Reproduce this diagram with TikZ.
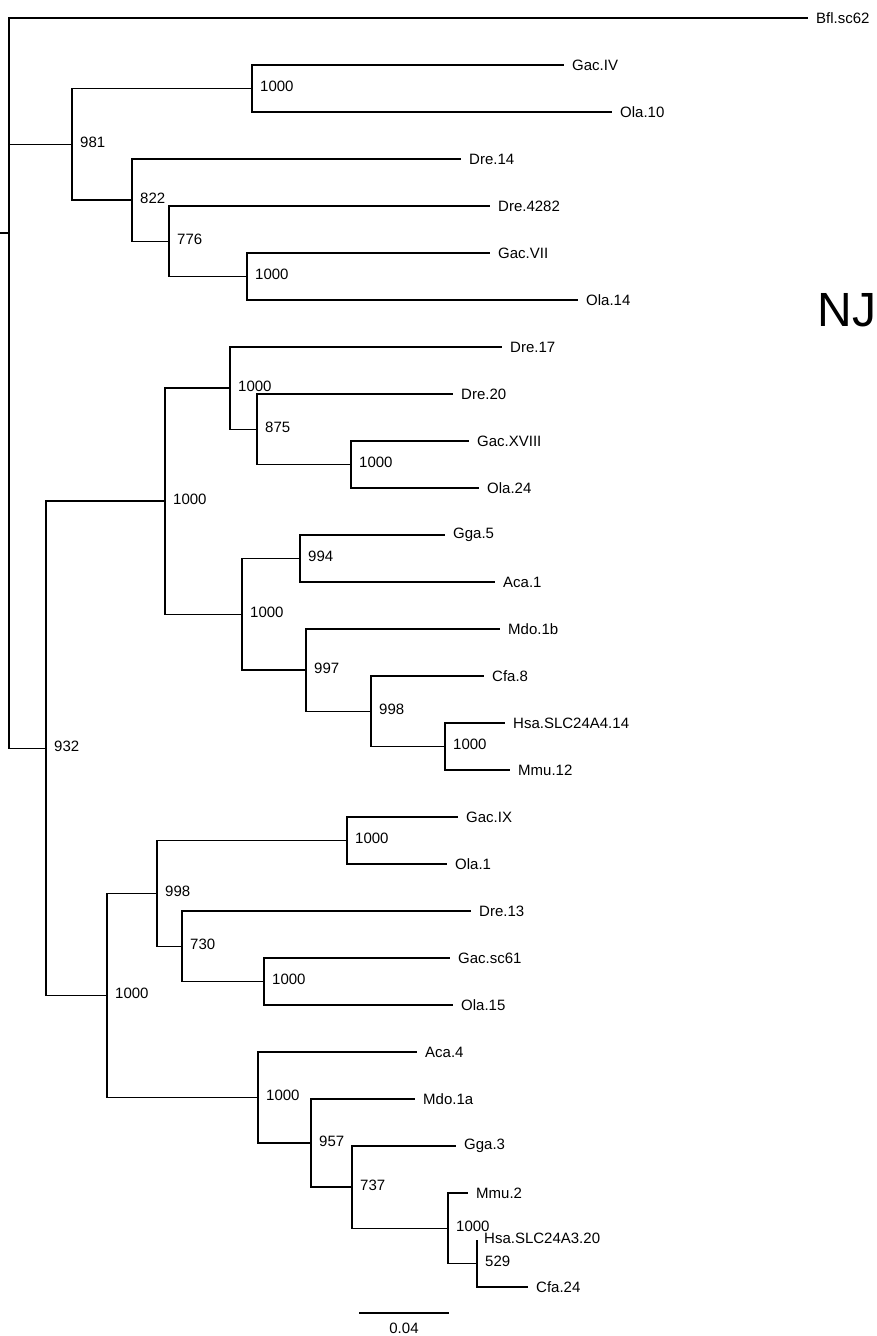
\documentclass[tikz,border=0pt]{standalone}
\usepackage{fontspec}
\setmainfont{Liberation Sans}
\begin{document}
\begin{tikzpicture}[x=1pt,y=-1pt,
  br/.style={line width=1.4pt},
  leaf/.style={anchor=west,inner sep=0pt,font=\fontsize{15}{18}\selectfont},
  boot/.style={anchor=west,inner sep=0pt,font=\fontsize{15}{18}\selectfont}]
\useasboundingbox (0,0) rectangle (876,1336);
% ---------- internal nodes ----------
\coordinate (stub) at (0,233);
\coordinate (root) at (9,233);
\coordinate (n981) at (72,144.3);
\coordinate (n1000a) at (252,88.5);
\coordinate (n822) at (132,200.1);
\coordinate (n776) at (169,241.25);
\coordinate (n1000b) at (247,276.5);
\coordinate (n932) at (46,748.2);
\coordinate (nA) at (165,501);
\coordinate (nB) at (230,388);
\coordinate (n875) at (257,429.25);
\coordinate (nC) at (351,464.5);
\coordinate (nD) at (242,614.25);
\coordinate (n994) at (300,558.5);
\coordinate (n997) at (306,670);
\coordinate (n998a) at (371,711.25);
\coordinate (nE) at (445,746.5);
\coordinate (nF) at (107,995.4);
\coordinate (n998b) at (157,893.4);
\coordinate (nG) at (347,840.5);
\coordinate (n730) at (182,946.25);
\coordinate (nH) at (264,981.5);
\coordinate (nI) at (258,1097.5);
\coordinate (n957) at (311,1143);
\coordinate (n737) at (352,1187);
\coordinate (nJ) at (448,1228.25);
\coordinate (n529) at (477,1263.5);
% ---------- tips ----------
\coordinate (tBfl) at (808,18);
\coordinate (tGacIV) at (564,65);
\coordinate (tOla10) at (612,112);
\coordinate (tDre14) at (461,159);
\coordinate (tDre4282) at (490,206);
\coordinate (tGacVII) at (490,253);
\coordinate (tOla14) at (578,300);
\coordinate (tDre17) at (502,347);
\coordinate (tDre20) at (453,394);
\coordinate (tGacXVIII) at (469,441);
\coordinate (tOla24) at (479,488);
\coordinate (tGga5) at (445,535);
\coordinate (tAca1) at (495,582);
\coordinate (tMdo1b) at (500,629);
\coordinate (tCfa8) at (484,676);
\coordinate (tHsa14) at (505,723);
\coordinate (tMmu12) at (510,770);
\coordinate (tGacIX) at (458,817);
\coordinate (tOla1) at (447,864);
\coordinate (tDre13) at (471,911);
\coordinate (tGacsc61) at (450,958);
\coordinate (tOla15) at (453,1005);
\coordinate (tAca4) at (417,1052);
\coordinate (tMdo1a) at (415,1099);
\coordinate (tGga3) at (456,1146);
\coordinate (tMmu2) at (468,1193);
\coordinate (tHsa20) at (477,1240);
\coordinate (tCfa24) at (528,1287);
% ---------- branches ----------
\draw[br] (stub) -- (root);
\draw[br] (root) |- (tBfl);
\draw[br] (root) |- (n981);
\draw[br] (root) |- (n932);
\draw[br] (n981) |- (n1000a);
\draw[br] (n981) |- (n822);
\draw[br] (n1000a) |- (tGacIV);
\draw[br] (n1000a) |- (tOla10);
\draw[br] (n822) |- (tDre14);
\draw[br] (n822) |- (n776);
\draw[br] (n776) |- (tDre4282);
\draw[br] (n776) |- (n1000b);
\draw[br] (n1000b) |- (tGacVII);
\draw[br] (n1000b) |- (tOla14);
\draw[br] (n932) |- (nA);
\draw[br] (n932) |- (nF);
\draw[br] (nA) |- (nB);
\draw[br] (nA) |- (nD);
\draw[br] (nB) |- (tDre17);
\draw[br] (nB) |- (n875);
\draw[br] (n875) |- (tDre20);
\draw[br] (n875) |- (nC);
\draw[br] (nC) |- (tGacXVIII);
\draw[br] (nC) |- (tOla24);
\draw[br] (nD) |- (n994);
\draw[br] (nD) |- (n997);
\draw[br] (n994) |- (tGga5);
\draw[br] (n994) |- (tAca1);
\draw[br] (n997) |- (tMdo1b);
\draw[br] (n997) |- (n998a);
\draw[br] (n998a) |- (tCfa8);
\draw[br] (n998a) |- (nE);
\draw[br] (nE) |- (tHsa14);
\draw[br] (nE) |- (tMmu12);
\draw[br] (nF) |- (n998b);
\draw[br] (nF) |- (nI);
\draw[br] (n998b) |- (nG);
\draw[br] (n998b) |- (n730);
\draw[br] (nG) |- (tGacIX);
\draw[br] (nG) |- (tOla1);
\draw[br] (n730) |- (tDre13);
\draw[br] (n730) |- (nH);
\draw[br] (nH) |- (tGacsc61);
\draw[br] (nH) |- (tOla15);
\draw[br] (nI) |- (tAca4);
\draw[br] (nI) |- (n957);
\draw[br] (n957) |- (tMdo1a);
\draw[br] (n957) |- (n737);
\draw[br] (n737) |- (tGga3);
\draw[br] (n737) |- (nJ);
\draw[br] (nJ) |- (tMmu2);
\draw[br] (nJ) |- (n529);
\draw[br] (n529) |- (tHsa20);
\draw[br] (n529) |- (tCfa24);
% ---------- leaf labels ----------
\node[leaf] (lBfl) at ([xshift=8pt]tBfl) {Bfl.sc62};
\node[leaf] (lGacIV) at ([xshift=8pt]tGacIV) {Gac.IV};
\node[leaf] (lOla10) at ([xshift=8pt]tOla10) {Ola.10};
\node[leaf] (lDre14) at ([xshift=8pt]tDre14) {Dre.14};
\node[leaf] (lDre4282) at ([xshift=8pt]tDre4282) {Dre.4282};
\node[leaf] (lGacVII) at ([xshift=8pt]tGacVII) {Gac.VII};
\node[leaf] (lOla14) at ([xshift=8pt]tOla14) {Ola.14};
\node[leaf] (lDre17) at ([xshift=8pt]tDre17) {Dre.17};
\node[leaf] (lDre20) at ([xshift=8pt]tDre20) {Dre.20};
\node[leaf] (lGacXVIII) at ([xshift=8pt]tGacXVIII) {Gac.XVIII};
\node[leaf] (lOla24) at ([xshift=8pt]tOla24) {Ola.24};
\node[leaf] (lGga5) at ([xshift=8pt]tGga5) {Gga.5};
\node[leaf] (lAca1) at ([xshift=8pt]tAca1) {Aca.1};
\node[leaf] (lMdo1b) at ([xshift=8pt]tMdo1b) {Mdo.1b};
\node[leaf] (lCfa8) at ([xshift=8pt]tCfa8) {Cfa.8};
\node[leaf] (lHsa14) at ([xshift=8pt]tHsa14) {Hsa.SLC24A4.14};
\node[leaf] (lMmu12) at ([xshift=8pt]tMmu12) {Mmu.12};
\node[leaf] (lGacIX) at ([xshift=8pt]tGacIX) {Gac.IX};
\node[leaf] (lOla1) at ([xshift=8pt]tOla1) {Ola.1};
\node[leaf] (lDre13) at ([xshift=8pt]tDre13) {Dre.13};
\node[leaf] (lGacsc61) at ([xshift=8pt]tGacsc61) {Gac.sc61};
\node[leaf] (lOla15) at ([xshift=8pt]tOla15) {Ola.15};
\node[leaf] (lAca4) at ([xshift=8pt]tAca4) {Aca.4};
\node[leaf] (lMdo1a) at ([xshift=8pt]tMdo1a) {Mdo.1a};
\node[leaf] (lGga3) at ([xshift=8pt]tGga3) {Gga.3};
\node[leaf] (lMmu2) at ([xshift=8pt]tMmu2) {Mmu.2};
\node[leaf] (lHsa20) at ([xshift=7pt,yshift=2pt]tHsa20) {Hsa.SLC24A3.20};
\node[leaf] (lCfa24) at ([xshift=8pt]tCfa24) {Cfa.24};
% ---------- bootstrap values ----------
\node[boot] (b981) at ([xshift=8pt,yshift=2pt]n981) {981};
\node[boot] (b1000a) at ([xshift=8pt,yshift=2pt]n1000a) {1000};
\node[boot] (b822) at ([xshift=8pt,yshift=2pt]n822) {822};
\node[boot] (b776) at ([xshift=8pt,yshift=2pt]n776) {776};
\node[boot] (b1000b) at ([xshift=8pt,yshift=2pt]n1000b) {1000};
\node[boot] (b932) at ([xshift=8pt,yshift=2pt]n932) {932};
\node[boot] (bA) at ([xshift=8pt,yshift=2pt]nA) {1000};
\node[boot] (bB) at ([xshift=8pt,yshift=2pt]nB) {1000};
\node[boot] (b875) at ([xshift=8pt,yshift=2pt]n875) {875};
\node[boot] (bC) at ([xshift=8pt,yshift=2pt]nC) {1000};
\node[boot] (bD) at ([xshift=8pt,yshift=2pt]nD) {1000};
\node[boot] (b994) at ([xshift=8pt,yshift=2pt]n994) {994};
\node[boot] (b997) at ([xshift=8pt,yshift=2pt]n997) {997};
\node[boot] (b998a) at ([xshift=8pt,yshift=2pt]n998a) {998};
\node[boot] (bE) at ([xshift=8pt,yshift=2pt]nE) {1000};
\node[boot] (bF) at ([xshift=8pt,yshift=2pt]nF) {1000};
\node[boot] (b998b) at ([xshift=8pt,yshift=2pt]n998b) {998};
\node[boot] (bG) at ([xshift=8pt,yshift=2pt]nG) {1000};
\node[boot] (b730) at ([xshift=8pt,yshift=2pt]n730) {730};
\node[boot] (bH) at ([xshift=8pt,yshift=2pt]nH) {1000};
\node[boot] (bI) at ([xshift=8pt,yshift=2pt]nI) {1000};
\node[boot] (b957) at ([xshift=8pt,yshift=2pt]n957) {957};
\node[boot] (b737) at ([xshift=8pt,yshift=2pt]n737) {737};
\node[boot] (bJ) at ([xshift=8pt,yshift=2pt]nJ) {1000};
\node[boot] (b529) at ([xshift=8pt,yshift=2pt]n529) {529};
% ---------- method label ----------
\node[inner sep=0pt,font=\fontsize{48}{56}\selectfont] (nj) at (847,310) {NJ};
% ---------- scale bar ----------
\coordinate (sbL) at (359,1313);
\coordinate (sbR) at (449,1313);
\draw[br] (sbL) -- (sbR);
\node[inner sep=0pt,font=\fontsize{15}{18}\selectfont] (sblab) at (404,1328) {0.04};
\end{tikzpicture}
\end{document}
